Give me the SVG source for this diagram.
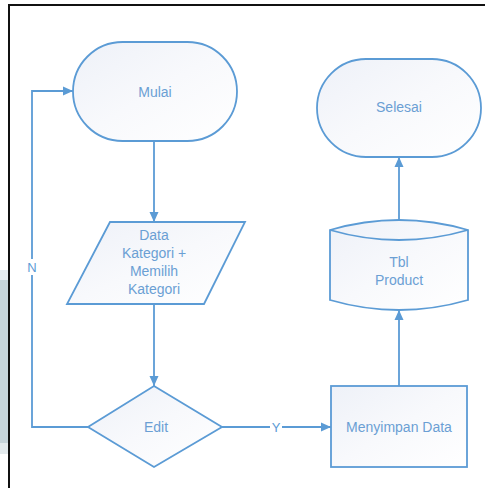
<svg xmlns="http://www.w3.org/2000/svg" width="485" height="488" viewBox="0 0 485 488">
  <defs>
    <linearGradient id="shapeFill" x1="0" y1="0" x2="1" y2="1">
      <stop offset="0" stop-color="#eef1f8"/>
      <stop offset="0.5" stop-color="#f8f9fc"/>
      <stop offset="1" stop-color="#ffffff"/>
    </linearGradient>
    <marker id="arrow" viewBox="0 0 10 10" refX="10" refY="5" markerWidth="10" markerHeight="10" markerUnits="userSpaceOnUse" orient="auto">
      <path d="M0,0.5 L10,5 L0,9.5 Z" fill="#5b9bd5"/>
    </marker>
    <style>
      .shape { fill: url(#shapeFill); stroke: #5b9bd5; stroke-width: 1.8; }
      .conn { fill: none; stroke: #5b9bd5; stroke-width: 1.8; }
      .label { font-family: "Liberation Sans", "Open Sans", sans-serif; font-size: 14px; fill: #6b9fd4; text-anchor: middle; dominant-baseline: central; }
      .tag { font-family: "Liberation Sans", "Open Sans", sans-serif; font-size: 13px; fill: #5b9bd5; text-anchor: middle; dominant-baseline: central; }
    </style>
  </defs>

  <!-- page background and frame -->
  <rect x="0" y="0" width="485" height="488" fill="#ffffff"/>
  <rect x="0" y="270" width="8" height="10" fill="#e6edf0"/>
  <rect x="0" y="280" width="8" height="163" fill="#c6d4da"/>
  <rect x="0" y="443" width="8" height="11" fill="#e3eaed"/>
  <path d="M9,488 L9,5 L485,5" fill="none" stroke="#111111" stroke-width="2"/>

  <!-- connectors -->
  <g id="connectors">
    <path class="conn" d="M154,141 L154,222" marker-end="url(#arrow)"/>
    <path class="conn" d="M154,304 L154,386" marker-end="url(#arrow)"/>
    <path class="conn" d="M88,427 L32,427 L32,91 L73,91" marker-end="url(#arrow)"/>
    <path class="conn" d="M222,427 L331,427" marker-end="url(#arrow)"/>
    <path class="conn" d="M399,386 L399,310" marker-end="url(#arrow)"/>
    <path class="conn" d="M399,220 L399,157" marker-end="url(#arrow)"/>
    <rect x="25" y="259" width="14" height="16" fill="#ffffff"/>
    <text class="tag" x="32" y="267">N</text>
    <rect x="270" y="419" width="12" height="16" fill="#ffffff"/>
    <text class="tag" x="276" y="427">Y</text>
  </g>

  <!-- start terminal -->
  <g id="mulai">
    <rect class="shape" x="73" y="42" width="164" height="99" rx="49.5" ry="49.5"/>
    <text class="label" x="155" y="92">Mulai</text>
  </g>

  <!-- input: category data -->
  <g id="data-kategori">
    <polygon class="shape" points="110,222 245,222 204,304 67,304"/>
    <text class="label" x="154" y="235">Data</text>
    <text class="label" x="154" y="253">Kategori +</text>
    <text class="label" x="154" y="271">Memilih</text>
    <text class="label" x="154" y="289">Kategori</text>
  </g>

  <!-- decision -->
  <g id="edit">
    <polygon class="shape" points="154,386 222,427 154,467 88,427"/>
    <text class="label" x="156" y="427">Edit</text>
  </g>

  <!-- save process -->
  <g id="menyimpan-data">
    <rect class="shape" x="331" y="386" width="136" height="81"/>
    <text class="label" x="399" y="427">Menyimpan Data</text>
  </g>

  <!-- database table -->
  <g id="tbl-product">
    <path class="shape" d="M330,230 Q399,210 468,230 L468,300 Q399,320 330,300 Z"/>
    <path class="conn" d="M330,230 Q399,250 468,230"/>
    <text class="label" x="399" y="262">Tbl</text>
    <text class="label" x="399" y="280">Product</text>
  </g>

  <!-- end terminal -->
  <g id="selesai">
    <rect class="shape" x="317" y="59" width="164" height="98" rx="49" ry="49"/>
    <text class="label" x="399" y="107">Selesai</text>
  </g>
</svg>
